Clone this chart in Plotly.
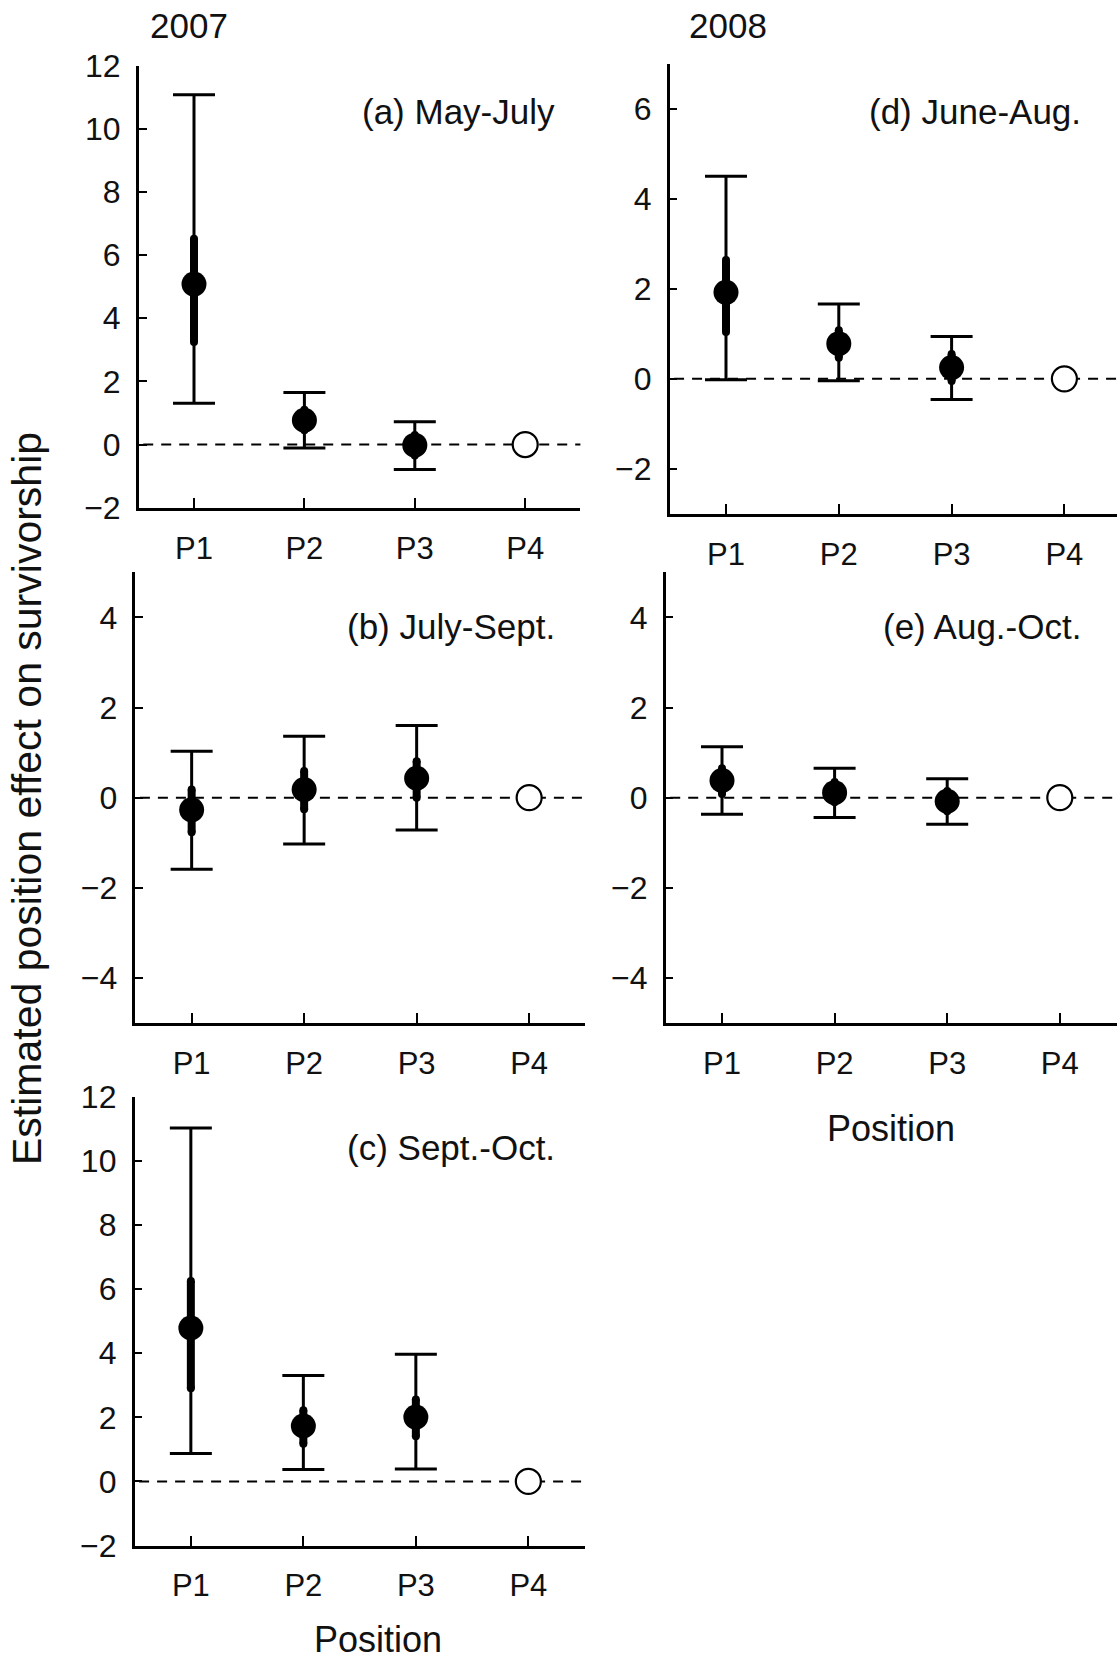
import plotly.graph_objects as go

# ---------------- data ----------------
positions = ["P1", "P2", "P3", "P4"]
xpos = [1, 2, 3, 4]

# estimated effect (P4 is the reference level = 0)
mean_a = [5.08, 0.77, -0.02]
lo95_a = [1.31, -0.11, -0.79]
hi95_a = [11.08, 1.65, 0.72]
lo50_a = [3.25, 0.45, -0.35]
hi50_a = [6.52, 1.10, 0.30]

mean_b = [-0.27, 0.18, 0.43]
lo95_b = [-1.59, -1.03, -0.72]
hi95_b = [1.03, 1.36, 1.60]
lo50_b = [-0.77, -0.26, 0.00]
hi50_b = [0.18, 0.59, 0.81]

mean_c = [4.79, 1.73, 2.01]
lo95_c = [0.87, 0.37, 0.39]
hi95_c = [11.03, 3.31, 3.97]
lo50_c = [2.91, 1.18, 1.41]
hi50_c = [6.26, 2.22, 2.56]

mean_d = [1.92, 0.78, 0.25]
lo95_d = [-0.02, -0.04, -0.46]
hi95_d = [4.50, 1.66, 0.94]
lo50_d = [1.04, 0.47, -0.05]
hi50_d = [2.64, 1.08, 0.55]

mean_e = [0.38, 0.11, -0.08]
lo95_e = [-0.37, -0.44, -0.59]
hi95_e = [1.13, 0.65, 0.42]
lo50_e = [0.08, -0.10, -0.30]
hi50_e = [0.65, 0.35, 0.15]

ref_value = 0

panel_labels = ["(a) May-July", "(d) June-Aug.", "(b) July-Sept.", "(e) Aug.-Oct.", "(c) Sept.-Oct."]
year_labels = ["2007", "2008"]
y_title = "Estimated position effect on survivorship"
x_title = "Position"

# ---------------- layout geometry ----------------
W, H = 1117, 1659
FONT = "Liberation Sans, Arial, Helvetica, sans-serif"
INK = "#111111"
THICK = 8

panels = [
    dict(d=(mean_a, lo95_a, hi95_a, lo50_a, hi50_a), xd=(138.8, 580.4), yd=(65.6, 507.7), yr=[-2, 12], xr=[0.5, 4.5]),
    dict(d=(mean_d, lo95_d, hi95_d, lo50_d, hi50_d), xd=(669.6, 1117), yd=(63.5, 514.0), yr=[-3, 7], xr=[0.5, 0.5 + (1117 - 669.6) / 112.8]),
    dict(d=(mean_b, lo95_b, hi95_b, lo50_b, hi50_b), xd=(135.4, 585.4), yd=(572.3, 1023.0), yr=[-5, 5], xr=[0.5, 4.5]),
    dict(d=(mean_e, lo95_e, hi95_e, lo50_e, hi50_e), xd=(665.7, 1117), yd=(572.3, 1023.0), yr=[-5, 5], xr=[0.5, 0.5 + (1117 - 665.7) / 112.6]),
    dict(d=(mean_c, lo95_c, hi95_c, lo50_c, hi50_c), xd=(134.6, 584.6), yd=(1097.0, 1545.5), yr=[-2, 12], xr=[0.5, 4.5]),
]

fig = go.Figure()
layout = dict(
    width=W, height=H,
    margin=dict(l=0, r=0, t=0, b=0, pad=0, autoexpand=False),
    paper_bgcolor="white", plot_bgcolor="white",
    showlegend=False,
    font=dict(family=FONT, color=INK),
)
shapes = []

for i, p in enumerate(panels):
    n = "" if i == 0 else str(i + 1)
    xa, ya = "x" + n, "y" + n
    mean, lo95, hi95, lo50, hi50 = p["d"]
    xs = xpos[:len(mean)]

    # thick inner interval
    fig.add_trace(go.Scatter(
        x=xs, y=mean, xaxis=xa, yaxis=ya, mode="markers",
        marker=dict(size=1, color="black"),
        error_y=dict(type="data", symmetric=False,
                     array=[h - m for h, m in zip(hi50, mean)],
                     arrayminus=[m - l for m, l in zip(mean, lo50)],
                     thickness=THICK, width=0, color="black"),
        hoverinfo="skip"))
    # rounded ends of the thick interval
    fig.add_trace(go.Scatter(
        x=xs + xs, y=lo50 + hi50, xaxis=xa, yaxis=ya, mode="markers",
        marker=dict(size=THICK, color="black"), hoverinfo="skip"))
    # thin 95% interval with caps + filled point
    fig.add_trace(go.Scatter(
        x=xs, y=mean, xaxis=xa, yaxis=ya, mode="markers",
        marker=dict(size=25, color="black"),
        error_y=dict(type="data", symmetric=False,
                     array=[h - m for h, m in zip(hi95, mean)],
                     arrayminus=[m - l for m, l in zip(mean, lo95)],
                     thickness=3, width=21, color="black")))
    # reference level
    fig.add_trace(go.Scatter(
        x=[xpos[3]], y=[ref_value], xaxis=xa, yaxis=ya, mode="markers",
        marker=dict(size=25, color="white", line=dict(color="black", width=2.2))))

    xd0, xd1 = p["xd"]
    yt, yb = p["yd"]
    layout["xaxis" + n] = dict(
        domain=[xd0 / W, min(xd1 / W, 1.0)], range=p["xr"], anchor=ya,
        tickmode="array", tickvals=xpos, ticktext=positions,
        ticks="inside", ticklen=10, tickwidth=2, tickcolor="black",
        showline=True, linewidth=2.5, linecolor="black",
        showgrid=False, zeroline=False, automargin=False,
        tickfont=dict(family=FONT, size=31, color=INK),
        ticklabelstandoff=11,
    )
    layout["yaxis" + n] = dict(
        domain=[1 - yb / H, 1 - yt / H], range=p["yr"], anchor=xa,
        dtick=2, tick0=0,
        ticks="inside", ticklen=8, tickwidth=2, tickcolor="black",
        showline=True, linewidth=2.5, linecolor="black",
        showgrid=False, zeroline=False, automargin=False,
        tickfont=dict(family=FONT, size=32, color=INK),
        ticklabelstandoff=9,
    )
    shapes.append(dict(type="line", xref=xa + " domain", x0=0.01, x1=1,
                       yref=ya, y0=ref_value, y1=ref_value, layer="below",
                       line=dict(color="black", width=2, dash="10px,8px")))

layout["shapes"] = shapes

ann = []
label_pos = [(557, 112, 0), (1083, 112, 1), (557, 626, 2), (1083, 626, 3), (557, 1147, 4)]
for xpx, ypx, k in label_pos:
    ann.append(dict(text=panel_labels[k], x=xpx / W, y=1 - ypx / H, xref="paper", yref="paper",
                    xanchor="right", yanchor="middle", showarrow=False,
                    font=dict(family=FONT, size=35, color=INK)))
ann.append(dict(text=year_labels[0], x=189 / W, y=1 - 26 / H, xref="paper", yref="paper",
                xanchor="center", yanchor="middle", showarrow=False,
                font=dict(family=FONT, size=35, color=INK)))
ann.append(dict(text=year_labels[1], x=728 / W, y=1 - 26 / H, xref="paper", yref="paper",
                xanchor="center", yanchor="middle", showarrow=False,
                font=dict(family=FONT, size=35, color=INK)))
ann.append(dict(text=x_title, x=891 / W, y=1 - 1128 / H, xref="paper", yref="paper",
                xanchor="center", yanchor="middle", showarrow=False,
                font=dict(family=FONT, size=36, color=INK)))
ann.append(dict(text=x_title, x=378 / W, y=1 - 1639 / H, xref="paper", yref="paper",
                xanchor="center", yanchor="middle", showarrow=False,
                font=dict(family=FONT, size=36, color=INK)))
ann.append(dict(text=y_title, x=27 / W, y=1 - 799 / H, xref="paper", yref="paper",
                xanchor="center", yanchor="middle", showarrow=False, textangle=-90,
                font=dict(family=FONT, size=41, color=INK)))
layout["annotations"] = ann

fig.update_layout(**layout)
fig.write_html(
    "out.html",
    config={"displayModeBar": False},
    post_script="document.body.style.margin='0';document.body.style.overflow='hidden';",
)
